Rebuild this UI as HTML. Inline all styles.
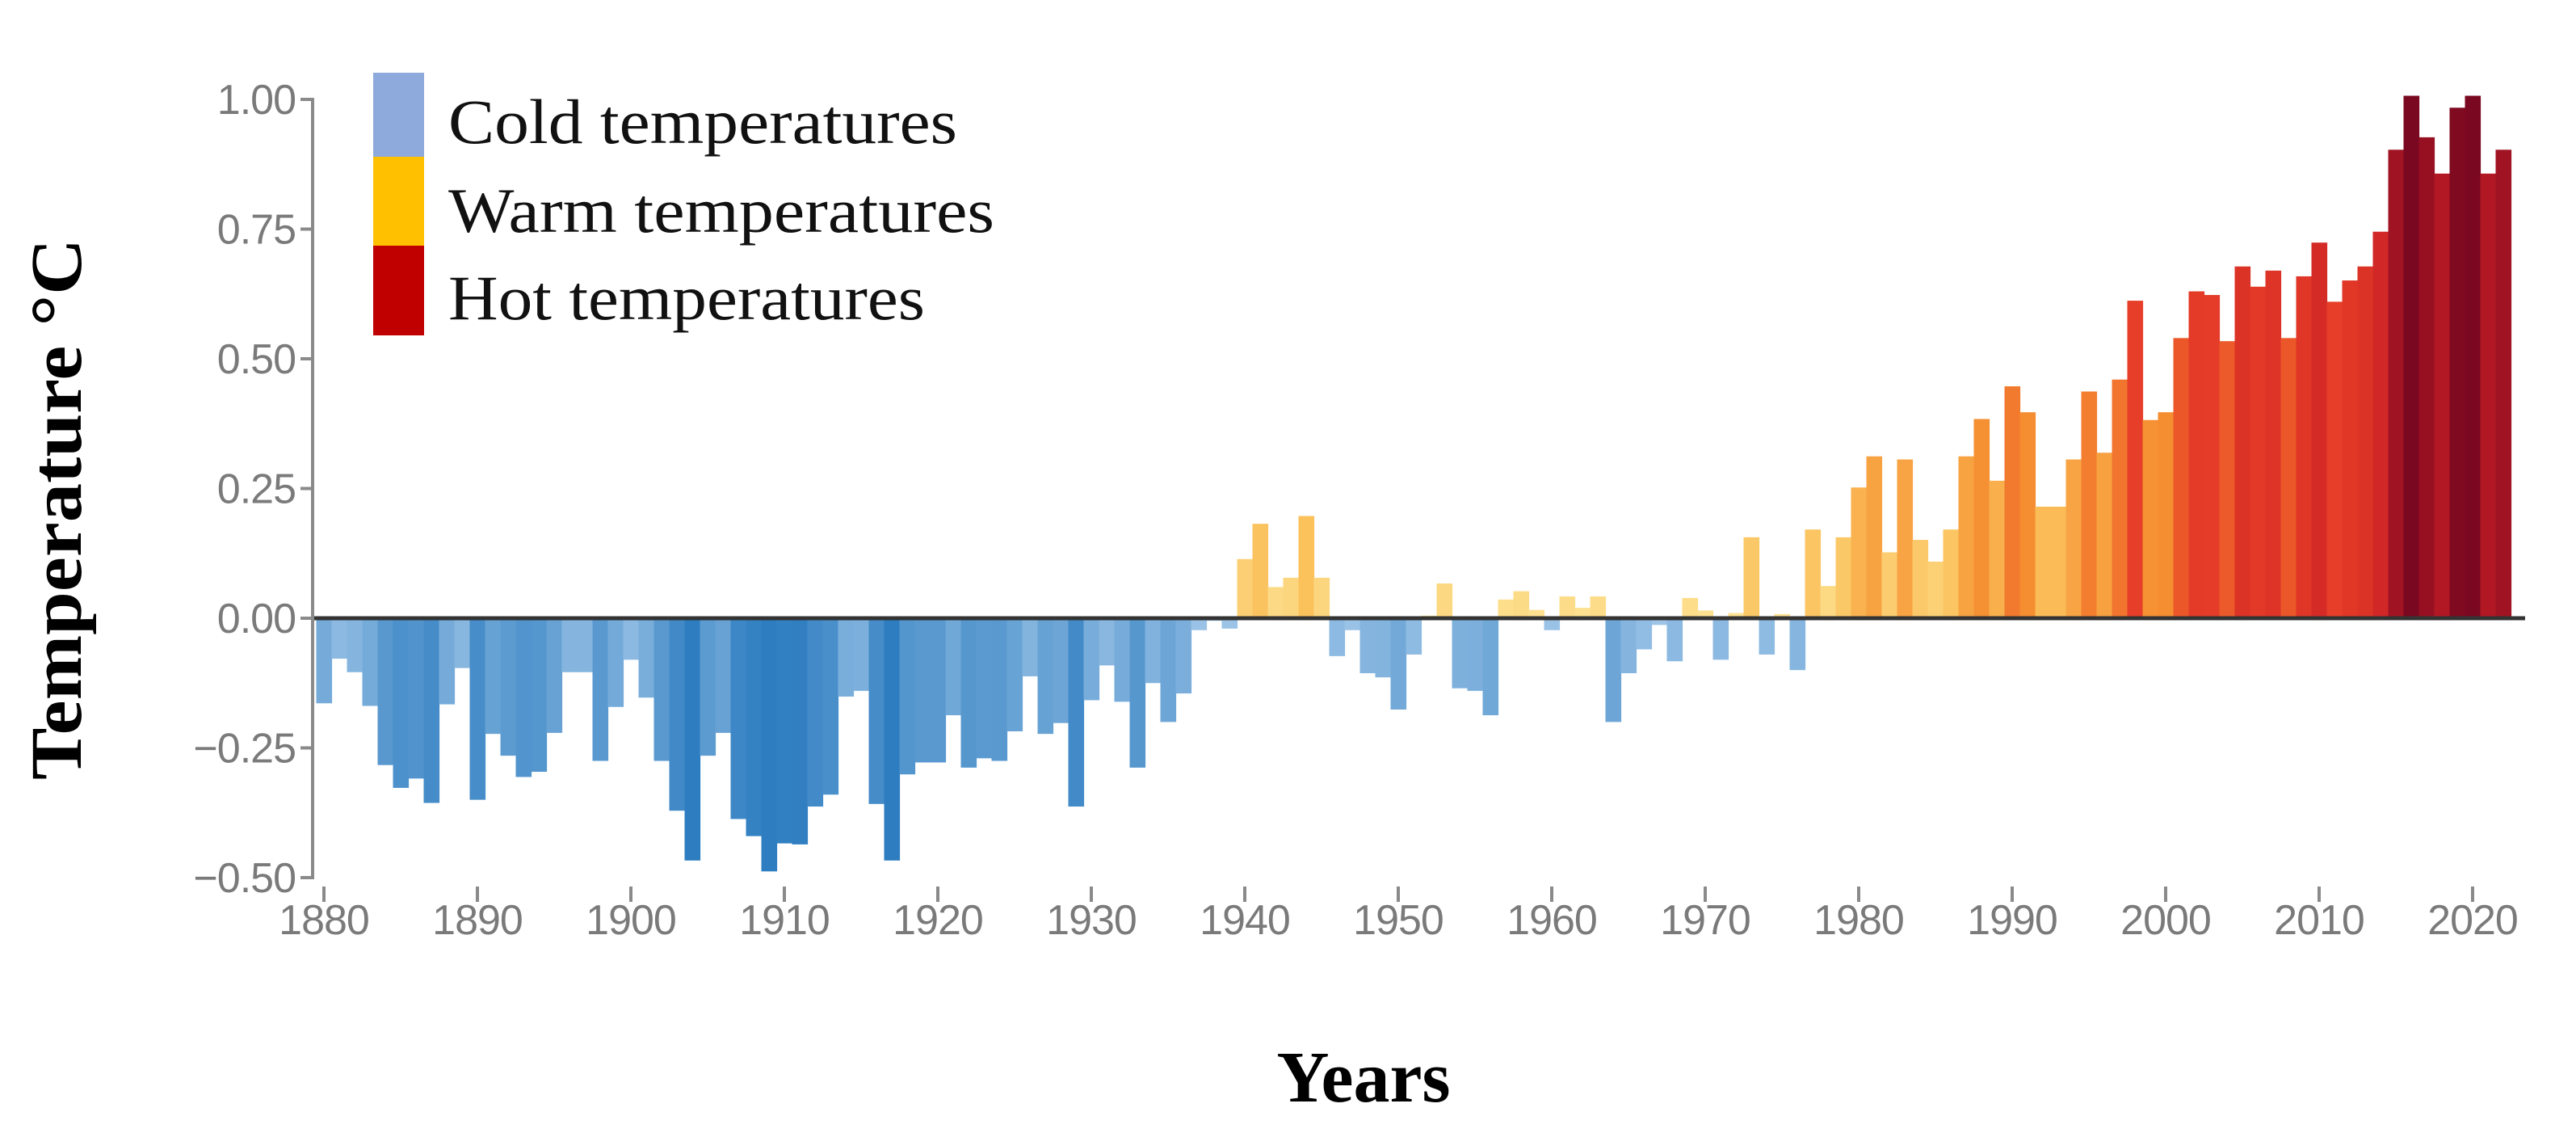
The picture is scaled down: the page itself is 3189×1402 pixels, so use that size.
<!DOCTYPE html>
<html><head><meta charset="utf-8"><style>
html,body{margin:0;padding:0;background:#fff;width:3189px;height:1402px;overflow:hidden}
svg{display:block}
</style></head><body>
<svg id="chart" width="3189" height="1402" viewBox="0 0 3189 1402" xmlns="http://www.w3.org/2000/svg">
<g id="bars"></g>
<g id="axes"></g>
<g>
<rect x="462" y="90" width="63" height="104" fill="#8eaadc"/>
<rect x="462" y="194" width="63" height="110" fill="#ffc000"/>
<rect x="462" y="304" width="63" height="111" fill="#c00000"/>
<text x="555" y="177" font-family="Liberation Serif, serif" font-size="78" fill="#111" textLength="630" lengthAdjust="spacingAndGlyphs">Cold temperatures</text>
<text x="555" y="287" font-family="Liberation Serif, serif" font-size="78" fill="#111" textLength="676" lengthAdjust="spacingAndGlyphs">Warm temperatures</text>
<text x="555" y="395" font-family="Liberation Serif, serif" font-size="78" fill="#111" textLength="590" lengthAdjust="spacingAndGlyphs">Hot temperatures</text>
</g>
<text transform="translate(100,630) rotate(-90)" text-anchor="middle" font-family="Liberation Serif, serif" font-weight="bold" font-size="90" fill="#000" textLength="670" lengthAdjust="spacingAndGlyphs">Temperature °C</text>
<text x="1688" y="1363" text-anchor="middle" font-family="Liberation Serif, serif" font-weight="bold" font-size="90" fill="#000">Years</text>
</svg>
<script>
const years = [];
for (let y = 1880; y <= 2022; y++) years.push(y);
const anomalies = [
-0.164,-0.078,-0.104,-0.169,-0.283,-0.327,-0.309,-0.356,-0.166,-0.096,
-0.350,-0.223,-0.265,-0.306,-0.296,-0.221,-0.104,-0.104,-0.275,-0.171,
-0.080,-0.153,-0.275,-0.371,-0.467,-0.265,-0.221,-0.387,-0.420,-0.488,
-0.434,-0.436,-0.363,-0.340,-0.151,-0.140,-0.358,-0.467,-0.301,-0.278,
-0.278,-0.187,-0.288,-0.270,-0.275,-0.218,-0.112,-0.223,-0.202,-0.363,
-0.158,-0.091,-0.161,-0.288,-0.125,-0.200,-0.145,-0.023,-0.005,-0.020,
0.114,0.182,0.060,0.078,0.197,0.078,-0.073,-0.023,-0.106,-0.114,
-0.176,-0.070,0.005,0.067,-0.135,-0.140,-0.187,0.036,0.052,0.016,
-0.023,0.042,0.020,0.042,-0.200,-0.106,-0.060,-0.013,-0.083,0.039,
0.015,-0.080,0.010,0.156,-0.070,0.008,-0.100,0.171,0.062,0.156,
0.252,0.312,0.127,0.306,0.151,0.109,0.171,0.312,0.384,0.265,
0.447,0.397,0.215,0.215,0.306,0.437,0.319,0.460,0.612,0.382,
0.397,0.540,0.630,0.623,0.534,0.678,0.639,0.670,0.540,0.659,
0.724,0.610,0.651,0.678,0.745,0.903,1.007,0.927,0.857,0.984,
1.007,0.857,0.903];
const yTicks = [1.00,0.75,0.50,0.25,0.00,-0.25,-0.50];
const yTickLabels = ["1.00","0.75","0.50","0.25","0.00","\u22120.25","\u22120.50"];
const xTicks = [1880,1890,1900,1910,1920,1930,1940,1950,1960,1970,1980,1990,2000,2010,2020];

const NS = "http://www.w3.org/2000/svg";
function xScale(yr){ return 401 + 19*(yr-1880); }
function yScale(v){ return 765 - 642*v; }
function lerp(a,b,t){ return a.map((c,i)=>Math.round(c+(b[i]-c)*t)); }
function colorFor(v){
  if (v < 0) {
    const t = Math.min(1, -v/0.45);
    const c = lerp([160,198,232],[45,125,192],t);
    return `rgb(${c})`;
  }
  const stops = [[0,[253,228,150]],[0.2,[251,192,90]],[0.4,[245,140,48]],[0.6,[232,64,40]],[0.8,[200,30,38]],[1.0,[122,8,32]]];
  for (let i=0;i<stops.length-1;i++){
    if (v <= stops[i+1][0]) {
      const t = (v-stops[i][0])/(stops[i+1][0]-stops[i][0]);
      return `rgb(${lerp(stops[i][1],stops[i+1][1],t)})`;
    }
  }
  return "rgb(122,8,32)";
}
function mk(tag, attrs, parent){ const e=document.createElementNS(NS,tag); for(const k in attrs) e.setAttribute(k,attrs[k]); parent.appendChild(e); return e; }

const bars = document.getElementById('bars');
years.forEach((yr,i)=>{
  const v = anomalies[i];
  const y0 = yScale(0), y1 = yScale(v);
  const r = mk('rect',{x:xScale(yr)-9.5,y:Math.min(y0,y1),width:19.6,height:Math.abs(y1-y0),fill:colorFor(v)},bars);
  
  
});

const axes = document.getElementById('axes');
const zl = mk('line',{x1:386,x2:3126,y1:yScale(0),y2:yScale(0),stroke:'#333',"stroke-width":5},axes);


const ya = mk('line',{x1:387,x2:387,y1:yScale(1.0)-2,y2:yScale(-0.5)+2,stroke:'#8a8a8a',"stroke-width":4},axes);


yTicks.forEach((t,i)=>{
  const ty = yScale(t);
  const tk = mk('line',{x1:372,x2:387,y1:ty,y2:ty,stroke:'#8a8a8a',"stroke-width":4},axes);
  
  
  const tx = mk('text',{x:366,y:ty+18,"text-anchor":"end","font-family":"Liberation Sans, sans-serif","font-size":52,fill:'#7a7a7a',"letter-spacing":"-1"},axes);
  tx.textContent = yTickLabels[i];
  
  
});
xTicks.forEach(yr=>{
  const x = xScale(yr);
  const tk = mk('line',{x1:x,x2:x,y1:1097,y2:1116,stroke:'#8a8a8a',"stroke-width":4},axes);
  
  
  const tx = mk('text',{x:x,y:1156,"text-anchor":"middle","font-family":"Liberation Sans, sans-serif","font-size":52,fill:'#7a7a7a',"letter-spacing":"-1"},axes);
  tx.textContent = String(yr);
  
  
});
</script>
</body></html>
